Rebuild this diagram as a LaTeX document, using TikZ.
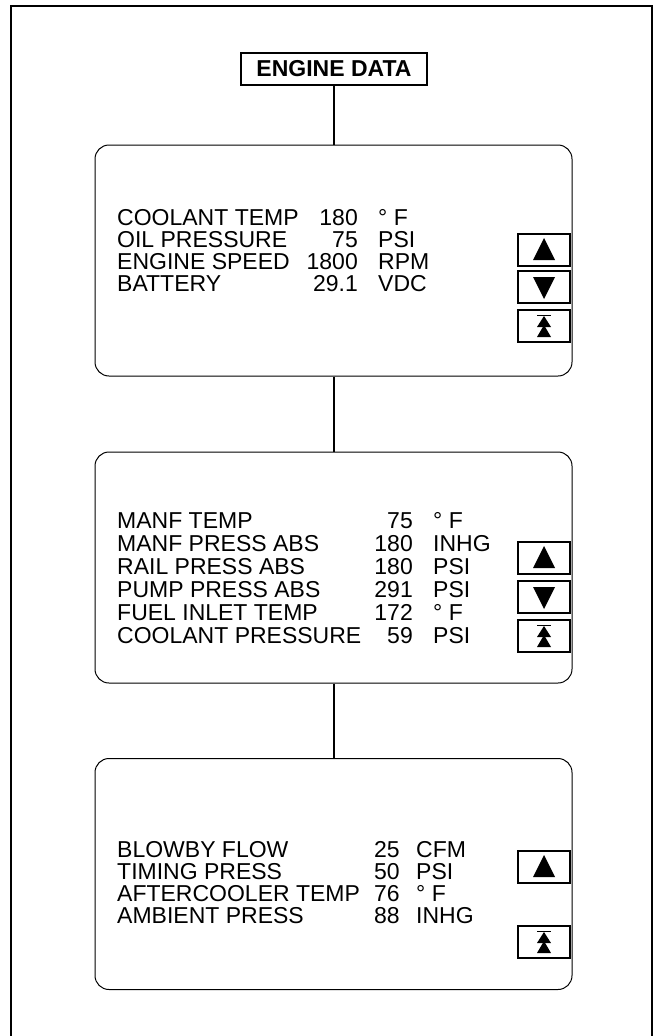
\documentclass[tikz,border=0pt]{standalone}
\usepackage{fontspec}
\setmainfont{Liberation Sans}
\begin{document}
\begin{tikzpicture}[x=1pt,y=-1pt,
  frame/.style={line width=2pt},
  titlebox/.style={draw,line width=2pt,minimum width=186pt,minimum height=32pt,inner sep=0pt,font=\fontsize{23}{24}\selectfont\bfseries},
  panel/.style={draw,line width=1pt,rounded corners=14pt,minimum width=477pt,minimum height=231pt,inner sep=0pt},
  link/.style={line width=2pt},
  btn/.style={draw,line width=2pt,minimum width=52pt,minimum height=32pt,inner sep=0pt},
  txt/.style={inner sep=0pt,font=\fontsize{23}{24}\selectfont},
  lbl/.style={txt,anchor=base west},
  num/.style={txt,anchor=base east},
  num3/.style={txt,anchor=base west},
  unit/.style={txt,anchor=base west}]
\useasboundingbox (0,0) rectangle (660,1036);
% outer frame (open at the bottom)
\draw[frame] (11,1036) -- (11,6) -- (652,6) -- (652,1036);

\node[titlebox] (title) at (334,69) {ENGINE DATA};
\node[panel] (box1) at (333.5,260.5) {};
\node[panel] (box2) at (333.5,567.5) {};
\node[panel] (box3) at (333.5,874) {};
\draw[link] (title.south) -- (title.south |- box1.north);
\draw[link] (box1.south) -- (box2.north);
\draw[link] (box2.south) -- (box3.north);

\newcommand{\upicon}[1]{\fill (#1.center) ++(-11,10) -- ++(22,0) -- ++(-11,-22) -- cycle;}
\newcommand{\downicon}[1]{\fill (#1.center) ++(-11,-10) -- ++(22,0) -- ++(-11,22) -- cycle;}
\newcommand{\topicon}[1]{%
  \draw[line width=1pt] (#1.center) ++(-7,-11) -- ++(14,0);
  \fill (#1.center) ++(0,-10) -- ++(7,11) -- ++(-14,0) -- cycle;
  \fill (#1.center) ++(0,-1) -- ++(7,12) -- ++(-14,0) -- cycle;}

% box 1
\node[lbl] (a1) at (117,225) {COOLANT TEMP};
\node[lbl] (a2) at (117,247) {OIL PRESSURE};
\node[lbl] (a3) at (117,269) {ENGINE SPEED};
\node[lbl] (a4) at (117,291) {BATTERY};
\node[num] (an1) at (358,225) {180};
\node[num] (an2) at (358,247) {75};
\node[num] (an3) at (358,269) {1800};
\node[num] (an4) at (358,291) {29.1};
\node[unit] (au1) at (378,225) {° F};
\node[unit] (au2) at (378,247) {PSI};
\node[unit] (au3) at (378,269) {RPM};
\node[unit] (au4) at (378,291) {VDC};
\node[btn] (b1u) at (544,250) {};
\node[btn] (b1d) at (544,287) {};
\node[btn] (b1t) at (544,326) {};
\upicon{b1u}\downicon{b1d}\topicon{b1t}

% box 2
\node[lbl] (c1) at (117,528) {MANF TEMP};
\node[lbl] (c2) at (117,551) {MANF PRESS ABS};
\node[lbl] (c3) at (117,574) {RAIL PRESS ABS};
\node[lbl] (c4) at (117,597) {PUMP PRESS ABS};
\node[lbl] (c5) at (117,620) {FUEL INLET TEMP};
\node[lbl] (c6) at (117,643) {COOLANT PRESSURE};
\node[num] (cn1) at (413,528) {75};
\node[num] (cn2) at (413,551) {180};
\node[num] (cn3) at (413,574) {180};
\node[num] (cn4) at (413,597) {291};
\node[num] (cn5) at (413,620) {172};
\node[num] (cn6) at (413,643) {59};
\node[unit] (cu1) at (433,528) {° F};
\node[unit] (cu2) at (433,551) {INHG};
\node[unit] (cu3) at (433,574) {PSI};
\node[unit] (cu4) at (433,597) {PSI};
\node[unit] (cu5) at (433,620) {° F};
\node[unit] (cu6) at (433,643) {PSI};
\node[btn] (b2u) at (544,558) {};
\node[btn] (b2d) at (544,597) {};
\node[btn] (b2t) at (544,636) {};
\upicon{b2u}\downicon{b2d}\topicon{b2t}

% box 3
\node[lbl] (e1) at (117,857) {BLOWBY FLOW};
\node[lbl] (e2) at (117,879) {TIMING PRESS};
\node[lbl] (e3) at (117,901) {AFTERCOOLER TEMP};
\node[lbl] (e4) at (117,923) {AMBIENT PRESS};
\node[num3] (en1) at (374,857) {25};
\node[num3] (en2) at (374,879) {50};
\node[num3] (en3) at (374,901) {76};
\node[num3] (en4) at (374,923) {88};
\node[unit] (eu1) at (416,857) {CFM};
\node[unit] (eu2) at (416,879) {PSI};
\node[unit] (eu3) at (416,901) {° F};
\node[unit] (eu4) at (416,923) {INHG};
\node[btn] (b3u) at (544,867) {};
\node[btn] (b3t) at (544,942) {};
\upicon{b3u}\topicon{b3t}
\end{tikzpicture}
\end{document}
